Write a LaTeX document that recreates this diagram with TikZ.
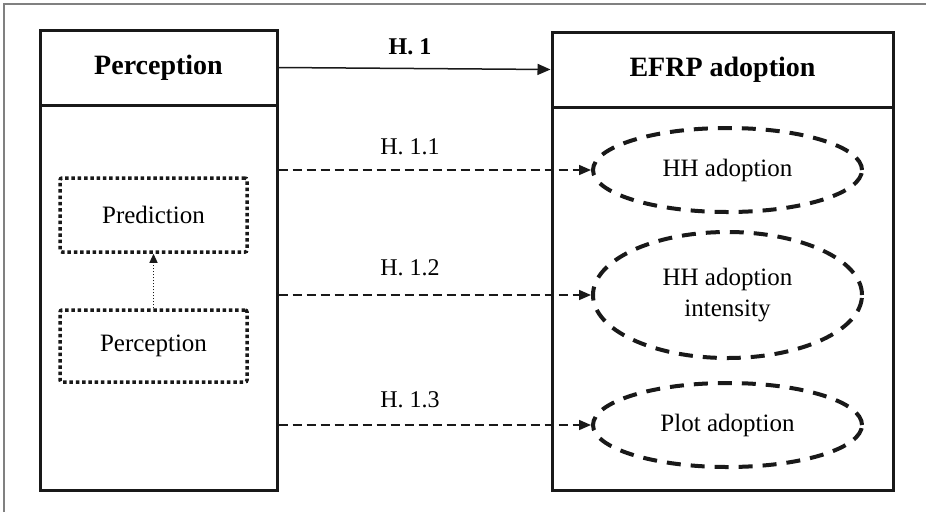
\documentclass[tikz,border=0pt]{standalone}
\usepackage{fontspec}
\setmainfont{Liberation Serif}
\usetikzlibrary{arrows.meta,shapes.geometric}
\begin{document}
\begin{tikzpicture}[x=1pt,y=-1pt,
  box/.style={draw=black!90,line width=3pt,rectangle,inner sep=0pt},
  headtext/.style={font=\fontsize{28}{32}\selectfont\bfseries},
  lab/.style={font=\fontsize{24}{28}\selectfont},
  dotbox/.style={draw=black!90,line width=3.5pt,dash pattern=on 3.5pt off 2.8pt,rectangle,rounded corners=2pt,inner sep=0pt,font=\fontsize{25}{29}\selectfont},
  dashell/.style={draw=black!90,line width=4pt,dash pattern=on 14pt off 10pt,ellipse,inner sep=0pt,font=\fontsize{25}{29}\selectfont,align=center},
  solidarrow/.style={draw=black!90,line width=1.5pt,-{Triangle[length=13pt,width=11pt]}},
  dasharrow/.style={draw=black!90,line width=1.6pt,dash pattern=on 9pt off 5pt,-{Triangle[length=12pt,width=10pt]}},
  dotarrow/.style={draw=black!90,line width=1.2pt,dash pattern=on 1.5pt off 1.5pt,-{Triangle[length=9pt,width=8pt]}}
]
\useasboundingbox (0,0) rectangle (926,512);
\fill[white] (0,0) rectangle (926,512);
% outer frame (left and top only visible)
\draw[black!50,line width=1.2pt] (4,512) -- (4,4) -- (926,4);

% left box
\node[box,minimum width=237pt,minimum height=460pt] (leftbox) at (158.5,260) {};
\node[box,minimum width=237pt,minimum height=75pt,headtext] (lefthead) at (158.5,67.5) {Perception};
% right box
\node[box,minimum width=341pt,minimum height=458pt] (rightbox) at (722.5,261) {};
\node[box,minimum width=341pt,minimum height=75pt,headtext] (righthead) at (722.5,69.5) {EFRP adoption};

% dotted boxes
\node[dotbox,minimum width=187pt,minimum height=74pt] (pred) at (153.5,215) {Prediction};
\node[dotbox,minimum width=187pt,minimum height=72pt] (perc) at (153.5,346) {Perception};
\draw[dotarrow] (perc.north) -- (pred.south);

% ellipses
\node[dashell,minimum width=269pt,minimum height=84pt] (e1) at (727.5,170) {HH adoption};
\node[dashell,minimum width=269pt,minimum height=126pt] (e2) at (727.5,295) {HH adoption\\[2pt]intensity};
\node[dashell,minimum width=269pt,minimum height=84pt] (e3) at (727.5,425) {Plot adoption};

% arrows
\draw[solidarrow] (lefthead.east) -- (righthead.west);
\node[font=\fontsize{24}{28}\selectfont\bfseries] (h1) at (410,47) {H. 1};
\coordinate (s1) at (leftbox.east |- e1.west);
\coordinate (s2) at (leftbox.east |- e2.west);
\coordinate (s3) at (leftbox.east |- e3.west);
\draw[dasharrow] (s1) -- (e1.west);
\draw[dasharrow] (s2) -- (e2.west);
\draw[dasharrow] (s3) -- (e3.west);
\node[lab] (h11) at (410,147) {H. 1.1};
\node[lab] (h12) at (410,268) {H. 1.2};
\node[lab] (h13) at (410,400) {H. 1.3};
\end{tikzpicture}
\end{document}
